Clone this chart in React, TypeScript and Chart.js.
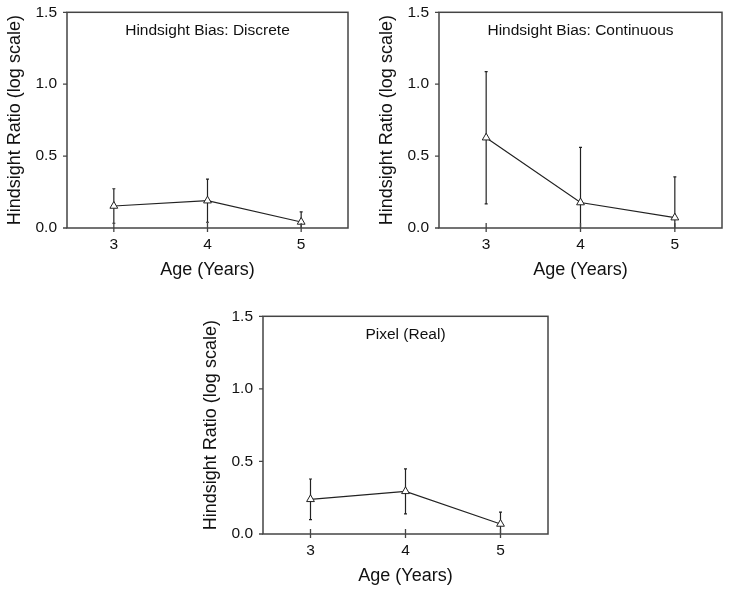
import React, { useEffect, useRef } from "react";
import { Chart, registerables } from "chart.js";

Chart.register(...registerables);

// ---- Data ----
const ages = [3, 4, 5];
const yTicks = [0, 0.5, 1.0, 1.5];

const discreteMean = [0.153, 0.19, 0.042];
const discreteErr = [0.12, 0.15, 0.07];

const continuousMean = [0.628, 0.177, 0.072];
const continuousErr = [0.46, 0.383, 0.284];

const pixelMean = [0.239, 0.294, 0.069];
const pixelErr = [0.14, 0.155, 0.082];

const xLabel = "Age (Years)";
const yLabel = "Hindsight Ratio (log scale)";

const FONT = "'Liberation Sans', Arial, Helvetica, sans-serif";
const INK = "#111";

const Y_AXIS_W = 67;
const X_AXIS_H = 55;
const PAD_TOP = 12;
const PAD_RIGHT = 6;

type PanelProps = {
  title: string;
  mean: number[];
  err: number[];
  left: number;
  top: number;
  right: number;
  bottom: number;
};

const panelPlugin = {
  id: "panelDecor",
  beforeDatasetsDraw(chart: any) {
    const { ctx, chartArea, scales } = chart;
    const opts = chart.options.plugins.panelDecor;
    const xs = scales.x;
    const ys = scales.y;
    ctx.save();
    ctx.beginPath();
    ctx.rect(chartArea.left, chartArea.top, chartArea.right - chartArea.left, chartArea.bottom - chartArea.top);
    ctx.clip();
    ctx.strokeStyle = "#222";
    ctx.lineWidth = 1.2;
    opts.mean.forEach((m: number, i: number) => {
      const px = xs.getPixelForValue(ages[i]);
      const hi = ys.getPixelForValue(m + opts.err[i]);
      const lo = ys.getPixelForValue(m - opts.err[i]);
      ctx.beginPath();
      ctx.moveTo(px, hi);
      ctx.lineTo(px, lo);
      ctx.moveTo(px - 1.5, hi);
      ctx.lineTo(px + 1.5, hi);
      ctx.moveTo(px - 1.5, lo);
      ctx.lineTo(px + 1.5, lo);
      ctx.stroke();
    });
    ctx.restore();
  },
  afterDraw(chart: any) {
    const { ctx, chartArea, scales } = chart;
    const opts = chart.options.plugins.panelDecor;
    const xs = scales.x;
    const ys = scales.y;
    ctx.save();
    ctx.strokeStyle = "#444";
    ctx.lineWidth = 1.5;
    ctx.strokeRect(chartArea.left, chartArea.top, chartArea.right - chartArea.left, chartArea.bottom - chartArea.top);
    ctx.lineWidth = 1.3;
    ctx.beginPath();
    ages.forEach((a) => {
      const px = xs.getPixelForValue(a);
      ctx.moveTo(px, chartArea.bottom - 5);
      ctx.lineTo(px, chartArea.bottom + 4);
    });
    yTicks.forEach((v) => {
      const py = ys.getPixelForValue(v);
      ctx.moveTo(chartArea.left - 4, py);
      ctx.lineTo(chartArea.left, py);
    });
    ctx.stroke();
    ctx.fillStyle = INK;
    ctx.font = `15.5px ${FONT}`;
    ctx.textAlign = "center";
    ctx.textBaseline = "middle";
    ctx.fillText(opts.title, (chartArea.left + chartArea.right) / 2, chartArea.top + 18);
    ctx.restore();
  },
};

function Panel({ title, mean, err, left, top, right, bottom }: PanelProps) {
  const ref = useRef<HTMLCanvasElement>(null);
  const width = right - left + Y_AXIS_W + PAD_RIGHT;
  const height = bottom - top + PAD_TOP + X_AXIS_H;

  useEffect(() => {
    const canvas = ref.current;
    if (!canvas) return;
    const chart = new Chart(canvas, {
      type: "line",
      data: {
        datasets: [
          {
            data: ages.map((a, i) => ({ x: a, y: mean[i] })),
            borderColor: "#222",
            borderWidth: 1.2,
            pointStyle: "triangle",
            pointRadius: 4.5,
            pointBackgroundColor: "#fff",
            pointBorderColor: "#222",
            pointBorderWidth: 1,
            tension: 0,
          },
        ],
      },
      options: {
        responsive: false,
        maintainAspectRatio: false,
        animation: false,
        layout: { padding: { top: PAD_TOP, right: PAD_RIGHT, left: 0, bottom: 0 } },
        plugins: {
          legend: { display: false },
          tooltip: { enabled: false },
          title: { display: false },
          panelDecor: { title, mean, err },
        } as any,
        scales: {
          x: {
            type: "linear",
            min: 2.5,
            max: 5.5,
            grid: { display: false, drawTicks: false },
            border: { display: false },
            afterBuildTicks: (s: any) => {
              s.ticks = ages.map((v) => ({ value: v }));
            },
            afterFit: (s: any) => {
              s.height = X_AXIS_H;
            },
            ticks: {
              color: INK,
              font: { family: FONT, size: 15.5 },
              padding: 7,
              maxRotation: 0,
              callback: (v: any) => String(v),
            },
            title: {
              display: true,
              text: xLabel,
              color: INK,
              font: { family: FONT, size: 18 },
              padding: { top: 0, bottom: 2 },
            },
          },
          y: {
            type: "linear",
            min: 0,
            max: 1.5,
            grid: { display: false, drawTicks: false },
            border: { display: false },
            afterBuildTicks: (s: any) => {
              s.ticks = yTicks.map((v) => ({ value: v }));
            },
            afterFit: (s: any) => {
              s.width = Y_AXIS_W;
            },
            ticks: {
              color: INK,
              font: { family: FONT, size: 15.5 },
              padding: 10,
              callback: (v: any) => Number(v).toFixed(1),
            },
            title: {
              display: true,
              text: yLabel,
              color: INK,
              font: { family: FONT, size: 18 },
              padding: { top: 4, bottom: 0 },
            },
          },
        },
      },
      plugins: [panelPlugin],
    } as any);
    const extra = Math.round(chart.chartArea.top - PAD_TOP);
    if (extra !== 0) {
      chart.resize(width, height + extra);
      const t = chart.chartArea.top;
      canvas.style.top = `${top - t}px`;
    }
    return () => chart.destroy();
  }, [title, mean, err]);

  return (
    <canvas
      ref={ref}
      width={width}
      height={height}
      style={{
        position: "absolute",
        left: left - Y_AXIS_W,
        top: top - PAD_TOP,
        width,
        height,
      }}
    />
  );
}

export default function App() {
  return (
    <div
      style={{
        position: "absolute",
        left: 0,
        top: 0,
        width: 729,
        height: 591,
        overflow: "hidden",
        background: "#fff",
      }}
    >
      <Panel title="Hindsight Bias: Discrete" mean={discreteMean} err={discreteErr} left={67} top={12} right={348} bottom={228} />
      <Panel title="Hindsight Bias: Continuous" mean={continuousMean} err={continuousErr} left={439} top={12} right={722} bottom={228} />
      <Panel title="Pixel (Real)" mean={pixelMean} err={pixelErr} left={263} top={316} right={548} bottom={534} />
    </div>
  );
}
